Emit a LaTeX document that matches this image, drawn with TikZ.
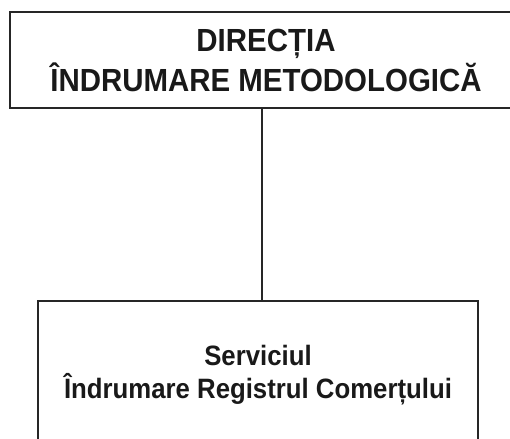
\documentclass[tikz,border=0pt]{standalone}
\usepackage{fontspec}
\newfontfamily\hdfont{Liberation Sans}[FakeStretch=0.92]
\begin{document}
\begin{tikzpicture}[x=1pt,y=-1pt,
  boxstyle/.style={draw=black!85,line width=2pt,fill=white,inner sep=0pt,align=center,text=black!90},
  linkstyle/.style={draw=black!85,line width=1.6pt}]
\useasboundingbox (0,0) rectangle (510,438);
\node[boxstyle,minimum width=512pt,minimum height=96pt,
  font=\hdfont\bfseries\fontsize{32pt}{40pt}\selectfont] (top) at (266,60) {DIRECȚIA\\ÎNDRUMARE METODOLOGICĂ};
\node[boxstyle,minimum width=440pt,minimum height=148pt,
  font=\hdfont\bfseries\fontsize{28pt}{33pt}\selectfont] (bot) at (258,375) {Serviciul\\Îndrumare Registrul Comerțului};
\coordinate (cx) at (262,0);
\draw[linkstyle] (top.south -| cx) -- (bot.north -| cx);
\end{tikzpicture}
\end{document}
